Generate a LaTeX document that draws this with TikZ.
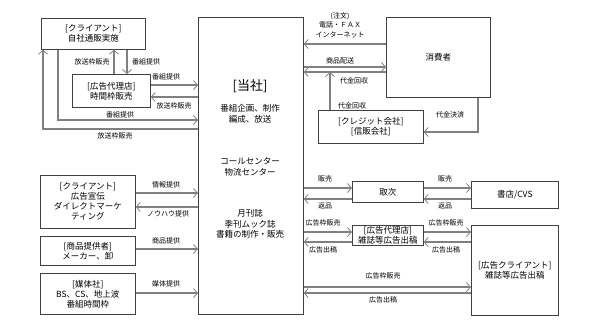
\documentclass[tikz,border=0pt]{standalone}
\usepackage{fontspec}
\setmainfont{Noto Sans CJK JP}
\usetikzlibrary{arrows.meta,calc}
\begin{document}
\begin{tikzpicture}[x=1pt,y=-1pt,
 box/.style={draw=black!75, line width=0.7pt, fill=white, inner sep=0pt, align=center,
   font=\fontsize{8.5}{10}\selectfont, anchor=north west},
 conn/.style={draw=black!50, line width=1.1pt, -{Straight Barb[length=4pt,width=9pt,line width=0.8pt]}},
 lab/.style={font=\fontsize{7}{9.5}\selectfont, inner sep=0pt},
 txt/.style={font=\fontsize{8.5}{10.5}\selectfont, inner sep=0pt, align=center}]
\useasboundingbox (0,0) rectangle (589,333);

% boxes
\node[box, minimum width=105pt, minimum height=297pt] (main) at (198,17) {};
\node[box, minimum width=104pt, minimum height=31pt] (c1) at (41,18) {[クライアント]\\自社通販実施};
\node[box, minimum width=78pt, minimum height=33pt] (ag1) at (72,74) {[広告代理店]\\時間枠販売};
\node[box, minimum width=104pt, minimum height=80pt] (cons) at (386,17) {消費者};
\node[box, minimum width=105pt, minimum height=33pt] (credit) at (318,110) {[クレジット会社]\\{[信販会社]}};
\node[box, minimum width=95pt, minimum height=53pt] (c2) at (40,175) {[クライアント]\\広告宣伝\\ダイレクトマーケ\\ティング};
\node[box, minimum width=95pt, minimum height=29pt] (sup) at (40,236) {[商品提供者]\\メーカー、卸};
\node[box, minimum width=95pt, minimum height=41pt] (media) at (40,273) {[媒体社]\\BS、CS、地上波\\番組時間枠};
\node[box, minimum width=71pt, minimum height=21pt] (tori) at (352,181) {取次};
\node[box, minimum width=87pt, minimum height=27pt] (shop) at (471,181) {書店/CVS};
\node[box, minimum width=71pt, minimum height=20pt, font=\fontsize{8.5}{9.5}\selectfont] (ag2) at (352,225) {[広告代理店]\\雑誌等広告出稿};
\node[box, minimum width=87pt, minimum height=90pt] (adc) at (471,225) {[広告クライアント]\\雑誌等広告出稿};

% main box texts
\node[txt, font=\fontsize{13}{15}\selectfont] (m0) at (250,86) {[当社]};
\node[txt] (m1) at (250,114) {番組企画、制作\\編成、放送};
\node[txt] (m2) at (250,167) {コールセンター\\物流センター};
\node[txt] (m3) at (250,224) {月刊誌\\季刊ムック誌\\書籍の制作・販売};

% left top connectors
\draw[conn] (main.west |- 0,129) -| (c1.south -| 43,0);
\draw[conn] (c1.south -| 58,0) |- (main.west |- 0,120);
\draw[conn] (ag1.north -| 114,0) -- (c1.south -| 114,0);
\draw[conn] (c1.south -| 127,0) -- (ag1.north -| 127,0);
\draw[conn] (ag1.east |- 0,85) -- (main.west |- 0,85);
\draw[conn] (main.west |- 0,97) -- (ag1.east |- 0,97);
\node[lab] (l1) at (115,136) {放送枠販売};
\node[lab] (l2) at (120,115) {番組提供};
\node[lab] (l3) at (92,62) {放送枠販売};
\node[lab] (l4) at (146,62) {番組提供};
\node[lab] (l5) at (166,77) {番組提供};
\node[lab] (l6) at (174,106) {放送枠販売};

% consumer
\draw[conn] (cons.west |- 0,44) -- (main.east |- 0,44);
\draw[conn] (main.east |- 0,67) -- (cons.west |- 0,67);
\draw[conn] (cons.west |- 0,72) -- (main.east |- 0,72);
\coordinate (j) at (330,72);
\draw[conn] (credit.north -| j) -- (j);
\draw[conn] (cons.south -| 478,0) |- (credit.east |- 0,132);
\node[lab, align=center] (l7) at (340,25) {(注文)\\電話・ＦＡＸ\\インターネット};
\node[lab] (l8) at (340,61) {商品配送};
\node[lab] (l9) at (354,81) {代金回収};
\node[lab] (l10) at (352,106) {代金回収};
\node[lab] (l11) at (450,115) {代金決済};

% left bottom
\draw[conn] (c2.east |- 0,193) -- (main.west |- 0,193);
\draw[conn] (main.west |- 0,207) -- (c2.east |- 0,207);
\draw[conn] (sup.east |- 0,249) -- (main.west |- 0,249);
\draw[conn] (media.east |- 0,293) -- (main.west |- 0,293);
\node[lab] (l12) at (166,185) {情報提供};
\node[lab] (l13) at (168,214) {ノウハウ提供};
\node[lab] (l14) at (166,241) {商品提供};
\node[lab] (l15) at (166,284) {媒体提供};

% right bottom
\draw[conn] (main.east |- 0,188) -- (tori.west |- 0,188);
\draw[conn] (tori.west |- 0,199) -- (main.east |- 0,199);
\draw[conn] (tori.east |- 0,188) -- (shop.west |- 0,188);
\draw[conn] (shop.west |- 0,199) -- (tori.east |- 0,199);
\draw[conn] (main.east |- 0,232) -- (ag2.west |- 0,232);
\draw[conn] (ag2.west |- 0,242) -- (main.east |- 0,242);
\draw[conn] (ag2.east |- 0,232) -- (adc.west |- 0,232);
\draw[conn] (adc.west |- 0,242) -- (ag2.east |- 0,242);
\draw[conn] (main.east |- 0,287) -- (adc.west |- 0,287);
\draw[conn] (adc.west |- 0,293) -- (main.east |- 0,293);
\node[lab] (l16) at (325,179) {販売};
\node[lab] (l17) at (325,206) {返品};
\node[lab] (l18) at (445,179) {販売};
\node[lab] (l19) at (445,206) {返品};
\node[lab] (l20) at (323,223) {広告枠販売};
\node[lab] (l21) at (323,250) {広告出稿};
\node[lab] (l22) at (446,223) {広告枠販売};
\node[lab] (l23) at (446,250) {広告出稿};
\node[lab] (l24) at (383,276) {広告枠販売};
\node[lab] (l25) at (383,300) {広告出稿};
\end{tikzpicture}
\end{document}
